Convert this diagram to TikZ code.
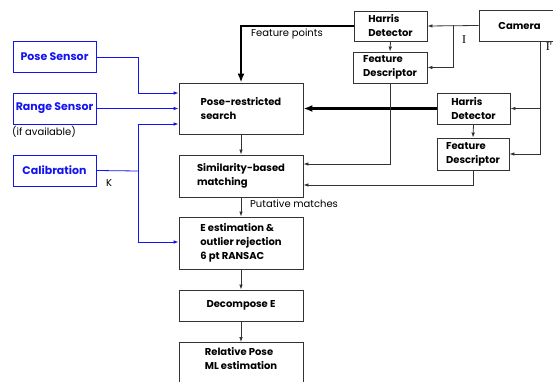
\documentclass[tikz,border=0pt]{standalone}
\usepackage{fontspec}
\setmainfont{Poppins}
\newfontfamily\serifI{Liberation Serif}
\usetikzlibrary{arrows.meta,calc}
\definecolor{pblue}{HTML}{1414F0}
\definecolor{lgray}{HTML}{333333}
\tikzset{
  box/.style={draw=lgray, line width=0.9pt, align=left, inner sep=0pt,
    font=\fontsize{10}{14}\selectfont\bfseries, text=black},
  bbox/.style={draw=pblue, line width=0.9pt, inner sep=0pt,
    font=\fontsize{11}{12}\selectfont\bfseries, text=pblue,
    minimum width=83pt, minimum height=31pt},
  conn/.style={draw=lgray, line width=0.8pt, -{Latex[length=5pt,width=3.6pt]}},
  thick conn/.style={draw=black, line width=2.6pt, -{Latex[length=9pt,width=7pt]}},
  bline/.style={draw=pblue, line width=0.8pt},
  bconn/.style={bline, -{Latex[length=5pt,width=3.6pt]}},
  lbl/.style={font=\fontsize{10}{12}\selectfont, text=black, inner sep=0pt, anchor=west}
}
\begin{document}
\begin{tikzpicture}[x=1pt,y=-1pt]
\useasboundingbox (0,0) rectangle (553,382);
\begin{scope}
\clip (0,0) rectangle (553,382);
% left blue boxes
\node[bbox] (pose) at (54.5,57) {Pose Sensor};
\node[bbox] (range) at (54.5,108.5) {Range Sensor};
\node[bbox] (calib) at (54.5,170.5) {Calibration};
\node[lbl] (ifav) at (12,132) {(if available)};
\node[lbl] (K) at (106,183) {K};
% main column
\node[box, minimum width=124pt, minimum height=51pt] (search) at (241,108.5) {Pose-restricted\\ search};
\node[box, minimum width=124pt, minimum height=42pt] (sim) at (241,176) {Similarity-based\\matching};
\node[box, minimum width=124pt, minimum height=52pt] (est) at (241,243) {E estimation \&\\outlier rejection\\6 pt RANSAC};
\node[box, minimum width=124pt, minimum height=31pt] (dec) at (241,305.5) {Decompose E};
\node[box, minimum width=124pt, minimum height=60pt, anchor=north] (rel) at (241,342) {};
\node[box, draw=none, anchor=north] (reltxt) at ($(rel.north)+(0,5)$) {Relative Pose\\ML estimation};
% right side
\node[box, minimum width=81pt, minimum height=31pt] (cam) at (519.5,25.5) {Camera};
\node[box, minimum width=73pt, minimum height=30pt] (h1) at (390.5,26) {Harris\\Detector};
\node[box, minimum width=74pt, minimum height=31pt] (f1) at (390,67.5) {Feature\\Descriptor};
\node[box, minimum width=73pt, minimum height=31pt] (h2) at (473.5,108.5) {Harris\\Detector};
\node[box, minimum width=72pt, minimum height=32pt] (f2) at (473,154) {Feature\\Descriptor};
% labels
\node[lbl] (fp) at (251,34) {Feature points};
\node[lbl] (pm) at (250,204) {Putative matches};
\node[font=\serifI\fontsize{12}{12}\selectfont, inner sep=0pt] (I1) at (464,40) {I};
\node[font=\serifI\fontsize{12}{12}\selectfont, inner sep=0pt] (I2) at (549,47) {I'};
% coordinates
\coordinate (cb) at (453,25.5);
\coordinate (cd) at (540,41);
\coordinate (bj1) at (138,57);
\coordinate (bj2) at (138,171);
\coordinate (bj3) at (138,124);
% camera connections
\draw[conn] (cam.west) -- (h1.east);
\draw[conn] (cb) |- (f1.east);
\draw[conn] (cd) |- (h2.east);
\draw[conn] (cd) |- (f2.east);
\draw[conn] (h1.south) -- (f1.north);
\draw[conn] (h2.south) -- (f2.north);
% thick
\draw[thick conn] (h1.west) -| (search.north);
\draw[thick conn] (h2.west) -- (search.east);
% descriptors to matching
\draw[conn] (f1.south) |- (sim.east |- 0,164);
\draw[conn] (f2.south) |- (sim.east |- 0,185);
% main column
\draw[conn] (search.south) -- (sim.north);
\draw[conn] (sim.south) -- (est.north);
\draw[conn] (est.south) -- (dec.north);
\draw[conn] (dec.south) -- (rel.north);
% blue
\draw[bconn] (pose.east) -- (bj1) |- (search.west |- 0,93);
\draw[bconn] (range.east) -- (search.west |- range.east);
\draw[bline] (calib.east) -- (bj2);
\draw[bconn] (bj3) -- (search.west |- bj3);
\draw[bconn] (bj3) |- (est.west |- 0,242);
\end{scope}
\end{tikzpicture}
\end{document}
